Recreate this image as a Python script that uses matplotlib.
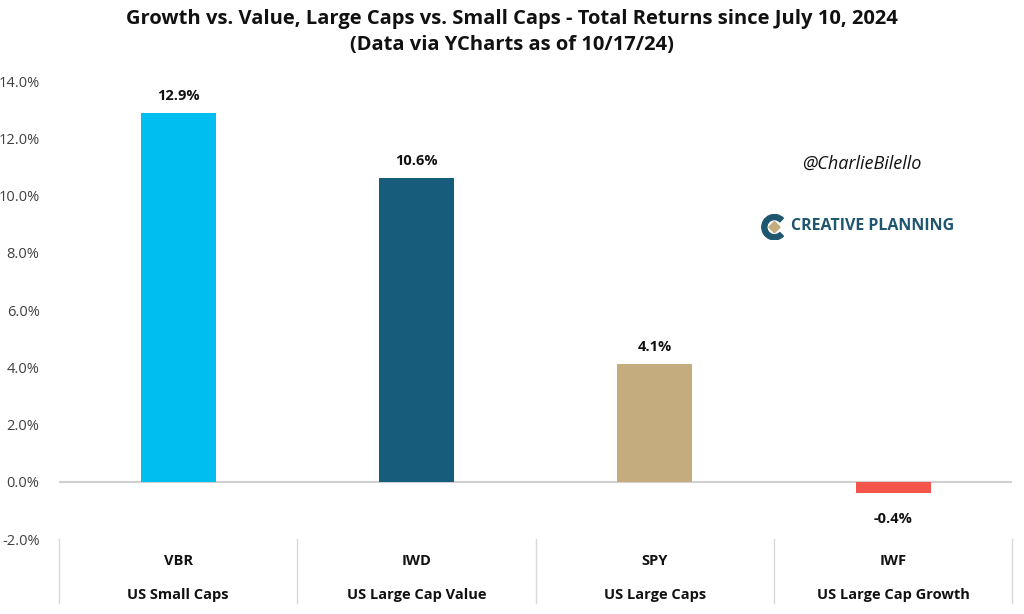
#!/usr/bin/env python3
# Growth vs Value / Large vs Small caps - total returns bar chart

import matplotlib.pyplot as plt
from matplotlib.patches import Wedge, Polygon
from matplotlib.transforms import blended_transform_factory
from matplotlib.ticker import FuncFormatter, MultipleLocator

plt.rcParams.update({
    "font.family": ["Open Sans", "DejaVu Sans"],
    "font.size": 11,
})

# ============================================================
# DATA
# ============================================================

tickers = ["VBR", "IWD", "SPY", "IWF"]
names = ["US Small Caps", "US Large Cap Value", "US Large Caps", "US Large Cap Growth"]
returns = [12.9, 10.6, 4.1, -0.4]
colors = ["#00BEF0", "#185C7B", "#C4AC7E", "#F3554A"]

TITLE = ("Growth vs. Value, Large Caps vs. Small Caps - Total Returns since July 10, 2024\n"
         "(Data via YCharts as of 10/17/24)")

# ============================================================
# PLOT
# ============================================================

fig = plt.figure(figsize=(10.24, 6.14), dpi=100)
ax = fig.add_axes([0.0576, 0.122, 0.931, 0.746])

x = range(len(tickers))
ax.bar(x, returns, width=0.315, color=colors, zorder=3)

ax.set_xlim(-0.5, len(tickers) - 0.5)
ax.set_ylim(-2, 14)
ax.yaxis.set_major_locator(MultipleLocator(2))
ax.yaxis.set_major_formatter(FuncFormatter(lambda v, p: f"{v:.1f}%"))
ax.tick_params(axis="y", length=0, labelsize=10.5, colors="#404040", pad=14)
ax.set_xticks([])
for s in ax.spines.values():
    s.set_visible(False)

# zero line
ax.axhline(0, color="#D0D0D0", linewidth=1.5, zorder=2)

# value labels
for i, v in enumerate(returns):
    if v >= 0:
        ax.text(i, v + 0.35, f"{v:.1f}%", ha="center", va="bottom",
                fontsize=10.5, fontweight="bold", color="#111111")
    else:
        ax.text(i, v - 0.9, f"{v:.1f}%", ha="center", va="center",
                fontsize=10.5, fontweight="bold", color="#111111")

# category table below the axis
tr = blended_transform_factory(ax.transData, ax.transAxes)
for i in range(len(tickers) + 1):
    ax.plot([i - 0.5, i - 0.5], [0, -0.14], transform=tr, clip_on=False,
            color="#D9D9D9", linewidth=1.0)
for i, (t, n) in enumerate(zip(tickers, names)):
    ax.text(i, -0.048, t, transform=tr, ha="center", va="center",
            fontsize=10.5, fontweight="bold", color="#111111")
    ax.text(i, -0.122, n, transform=tr, ha="center", va="center",
            fontsize=10.5, fontweight="bold", color="#111111")

# title
fig.text(0.5, 0.948, TITLE, ha="center", va="center", fontsize=14.5,
         fontweight="bold", linespacing=1.35, color="#111111")

# branding
fig.text(0.842, 0.734, "@CharlieBilello", ha="center", va="center",
         fontsize=13, style="italic", color="#111111")

# little logo mark: teal "C" ring + tan diamond
logo = fig.add_axes([0.742, 0.603, 0.026, 0.054])
logo.set_xlim(-1, 1)
logo.set_ylim(-1, 1)
logo.set_aspect("equal")
logo.axis("off")
logo.add_patch(Wedge((0.1, 0), 0.95, 45, 315, width=0.38, color="#1E5670"))
logo.add_patch(Polygon([(0.1, 0.42), (0.52, 0), (0.1, -0.42), (-0.32, 0)],
                       closed=True, color="#C4AC7E"))

fig.text(0.772, 0.632, "CREATIVE PLANNING", ha="left", va="center",
         fontsize=11.5, fontweight="bold", color="#1E5670")

fig.savefig("out.png", dpi=100)
